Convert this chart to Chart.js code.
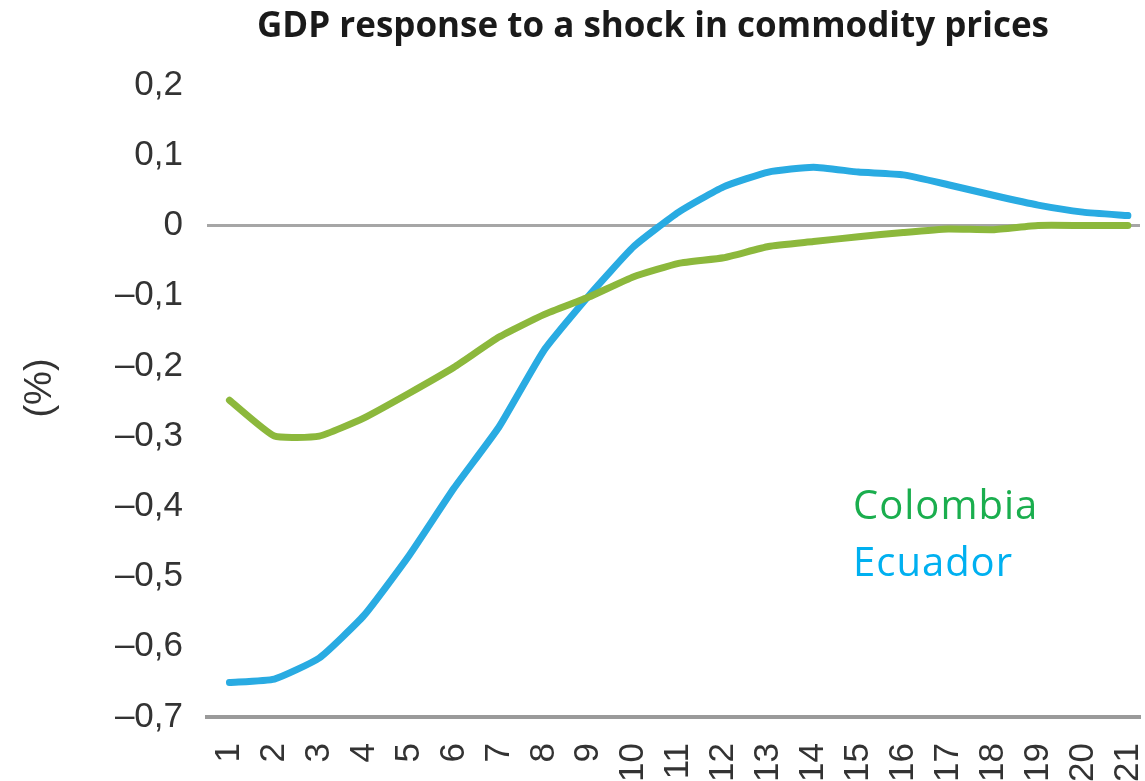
<!DOCTYPE html>
<html>
<head>
<meta charset="utf-8">
<script src="https://cdn.jsdelivr.net/npm/chart.js@4.4.0/dist/chart.umd.min.js"></script>
<style>
  html, body { margin: 0; padding: 0; background: #fff; }
  #wrap { width: 1145px; height: 781px; }
</style>
</head>
<body>
<div id="wrap"><canvas id="gdpChart" width="1145" height="781"></canvas></div>
<script>
// periodos depois do choque
const periods = [1, 2, 3, 4, 5, 6, 7, 8, 9, 10, 11, 12, 13, 14, 15, 16, 17, 18, 19, 20, 21];

// resposta do PIB (%)
const colombia = [-0.249, -0.300, -0.300, -0.274, -0.239, -0.202, -0.159, -0.127, -0.102, -0.073, -0.054,
                  -0.046, -0.030, -0.023, -0.016, -0.010, -0.005, -0.006, 0.000, 0.000, 0.000];
const ecuador = [-0.651, -0.646, -0.616, -0.555, -0.470, -0.374, -0.287, -0.178, -0.100, -0.030, 0.019,
                 0.055, 0.076, 0.083, 0.076, 0.072, 0.058, 0.043, 0.029, 0.019, 0.014];

const yTicks = [0.2, 0.1, 0, -0.1, -0.2, -0.3, -0.4, -0.5, -0.6, -0.7];

const titulo = "GDP response to a shock in commodity prices";
const series = [
  { nome: "Colombia", valores: colombia, linha: "#8cb83c", texto: "#1aae4e" },
  { nome: "Ecuador", valores: ecuador, linha: "#29abe2", texto: "#00b0f0" }
];

function formatarTick(v) {
  if (Math.abs(v) < 1e-9) return "0";
  const s = Math.abs(v).toFixed(1).replace(".", ",");
  return v < 0 ? "\u2013" + s : s;
}

// titulo, rotulo do eixo e nomes das series
const textosPlugin = {
  id: "textos",
  afterDraw(chart) {
    const ctx = chart.ctx;
    const area = chart.chartArea;
    ctx.save();

    ctx.fillStyle = "#1a1a1a";
    ctx.font = "bold 35px 'Open Sans'";
    ctx.textAlign = "center";
    ctx.textBaseline = "middle";
    ctx.fillText(titulo, 653, 27);

    ctx.save();
    ctx.translate(41, 388);
    ctx.rotate(-Math.PI / 2);
    ctx.fillStyle = "#333";
    ctx.font = "38px 'Liberation Sans'";
    ctx.fillText("(%)", 0, 0);
    ctx.restore();

    ctx.font = "40px 'Open Sans'";
    ctx.letterSpacing = "1px";
    ctx.textAlign = "left";
    ctx.textBaseline = "alphabetic";
    series.forEach((s, i) => {
      ctx.fillStyle = s.texto;
      ctx.fillText(s.nome, area.left + 646, 519 + i * 57);
    });
    ctx.restore();
  }
};

const ctx = document.getElementById("gdpChart").getContext("2d");

new Chart(ctx, {
  type: "line",
  data: {
    datasets: series.map((s) => ({
      label: s.nome,
      data: periods.map((p, i) => ({ x: p, y: s.valores[i] })),
      borderColor: s.linha,
      backgroundColor: s.linha,
      borderWidth: 7,
      pointRadius: 0,
      tension: 0.15,
      borderCapStyle: "round",
      borderJoinStyle: "round"
    }))
  },
  options: {
    responsive: false,
    animation: false,
    devicePixelRatio: 1,
    layout: { padding: { top: 85, right: 5, bottom: 0, left: 0 } },
    plugins: {
      legend: { display: false },
      tooltip: { enabled: false }
    },
    scales: {
      x: {
        type: "linear",
        min: 0.5,
        max: 21.27,
        afterBuildTicks: (scale) => {
          scale.ticks = periods.map((v) => ({ value: v }));
        },
        afterFit: (scale) => {
          scale.height = 64;
          scale.paddingLeft = 0;
          scale.paddingRight = 0;
        },
        grid: { display: false },
        border: { display: true, color: "#9a9a9a", width: 4 },
        ticks: {
          autoSkip: false,
          minRotation: 90,
          maxRotation: 90,
          padding: 18,
          color: "#333",
          font: { family: "'Liberation Sans'", size: 35 },
          callback: (v) => String(v)
        }
      },
      y: {
        min: -0.7,
        max: 0.2,
        afterBuildTicks: (scale) => {
          scale.ticks = yTicks.map((v) => ({ value: v }));
        },
        afterFit: (scale) => {
          scale.width = 207;
        },
        border: { display: false },
        grid: {
          drawTicks: false,
          lineWidth: 3,
          color: (c) => (c.tick && Math.abs(c.tick.value) < 1e-9 ? "#a6a6a6" : "rgba(0,0,0,0)")
        },
        ticks: {
          padding: 24,
          color: "#333",
          font: { family: "'Liberation Sans'", size: 35 },
          callback: (v) => formatarTick(v)
        }
      }
    }
  },
  plugins: [textosPlugin]
});
</script>
</body>
</html>
